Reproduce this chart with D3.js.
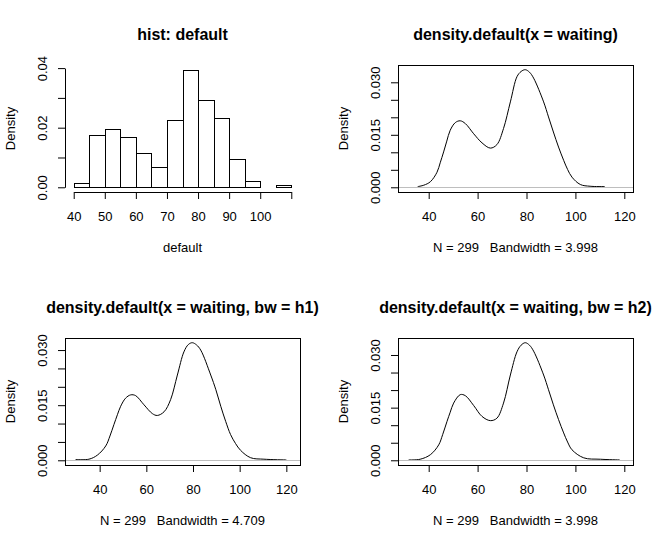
<!DOCTYPE html>
<html>
<head>
<meta charset="utf-8">
<script src="https://cdn.jsdelivr.net/npm/d3@7"></script>
<style>
body { margin: 0; background: #fff; }
text { fill: #000; }
</style>
</head>
<body>
<script>
// histogram of waiting, bins of width 5
var histBreaks = [40, 45, 50, 55, 60, 65, 70, 75, 80, 85, 90, 95, 100, 105, 110];
var histDensity = [0.00134, 0.01739, 0.01940, 0.01672, 0.01137, 0.00669, 0.02274,
                   0.03946, 0.02943, 0.02341, 0.00936, 0.00201, 0, 0.00067];
var histXTicks = [40, 50, 60, 70, 80, 90, 100, 110];
var histXLabels = ["40", "50", "60", "70", "80", "90", "100", ""];
var histYTicks = [0, 0.01, 0.02, 0.03, 0.04];
var histYLabels = ["0.00", "", "0.02", "", "0.04"];

// kernel density estimates
var densX1 = [35.5, 38, 40.7, 43.4, 44.7, 46.1, 47.4, 48.8, 50.9, 52.9, 55, 58.4, 61.8, 65.2, 67.9, 70.6,
              73.4, 76.1, 77.8, 79.5, 81.2, 82.9, 87, 89, 91, 93.1, 95.2, 96.8, 98.6, 102, 106, 112];
var densY1 = [0.0002, 0.0006, 0.0016, 0.0043, 0.0070, 0.0101, 0.0132, 0.0163, 0.0185, 0.0190, 0.0182, 0.0153,
              0.0127, 0.0112, 0.0122, 0.0168, 0.0244, 0.0316, 0.0331, 0.0336, 0.0329, 0.0312,
              0.0244, 0.0201, 0.0158, 0.0115, 0.0077, 0.0051, 0.0029, 0.0008, 0.0003, 0.0002];
var densX2 = [29.7, 35.4, 39, 42.6, 44.4, 46.1, 47.6, 49, 51.1, 53.3, 55.4, 59, 62.6, 64.7, 67.6, 70.4,
              73.3, 76.1, 78, 79.7, 81.5, 83.3, 87.6, 89.8, 91.9, 94, 96.1, 98.2, 100.4, 104.7, 110.4, 120];
var densY2 = [0.0002, 0.0003, 0.0014, 0.0039, 0.0066, 0.0097, 0.0124, 0.0147, 0.0169, 0.0178, 0.0176, 0.0151,
              0.0127, 0.0122, 0.0132, 0.0165, 0.0232, 0.0295, 0.0315, 0.0320, 0.0314, 0.0300,
              0.0232, 0.0192, 0.0147, 0.0106, 0.0070, 0.0046, 0.0027, 0.0007, 0.0003, 0.0001];
var densX3 = [31.8, 36.5, 40.7, 44.1, 45.7, 47.5, 48.8, 50.2, 52.9, 55, 58.4, 61.8, 65.2, 67.9, 70.6, 73.4,
              76.1, 77.8, 79.5, 81.2, 82.9, 87, 89, 91, 93.1, 95.2, 96.8, 98.6, 103.4, 110.2, 118.1];
var densY3 = [0.0001, 0.0003, 0.0016, 0.0044, 0.0073, 0.0111, 0.0137, 0.0163, 0.0187, 0.0184, 0.0156, 0.0125,
              0.0113, 0.0120, 0.0163, 0.0243, 0.0309, 0.0328, 0.0335, 0.0328, 0.0311, 0.0243,
              0.0201, 0.0158, 0.0116, 0.0078, 0.0052, 0.0030, 0.0007, 0.0003, 0.0001];

var nObs = 299;
var waitingRange = [43, 108];
var bandwidths = [3.998, 4.709, 3.998];
var densXTicks = [40, 60, 80, 100, 120];
var densYTicks = [0, 0.005, 0.010, 0.015, 0.020, 0.025, 0.030];
var densYLabels = ["0.000", "", "", "0.015", "", "", "0.030"];
var titles = ["hist: default", "density.default(x = waiting)",
              "density.default(x = waiting, bw = h1)", "density.default(x = waiting, bw = h2)"];

var FONT = "'Liberation Sans', Arial, Helvetica, sans-serif";
var W = 667, H = 547;
var svg = d3.select("body").append("svg").attr("width", W).attr("height", H)
  .style("font-family", FONT);

// plot region of panel (col,row) in a 2x2 layout
function region(col, row) {
  var ox = col * 333.5, oy = row * 273.5;
  return {ox: ox, oy: oy,
    left: Math.floor(65.3 + ox), right: Math.floor(300 + ox),
    top: Math.floor(65 + oy), bottom: Math.floor(192.3 + oy)};
}

function ext(a, b) { var r = b - a; return [a - 0.04 * r, b + 0.04 * r]; }

function bottomAxis(g, x, ticks, labels, y0) {
  var ax = g.append("g").attr("transform", "translate(0," + y0 + ")")
    .call(d3.axisBottom(x).tickValues(ticks).tickSize(7).tickSizeOuter(0)
      .tickFormat(function(d, i) { return labels[i]; }));
  ax.attr("font-family", FONT).attr("font-size", 13);
  ax.select(".domain").remove();
  ax.append("line").attr("x1", x(ticks[0]) + 0.5).attr("x2", x(ticks[ticks.length - 1]) + 0.5)
    .attr("y1", 0.5).attr("y2", 0.5).attr("stroke", "#000");
  ax.selectAll("text").attr("y", 28.5).attr("dy", null);
}

function leftAxis(g, y, ticks, labels, x0) {
  var ax = g.append("g").attr("transform", "translate(" + x0 + ",0)")
    .call(d3.axisLeft(y).tickValues(ticks).tickSize(7).tickSizeOuter(0)
      .tickFormat(function(d, i) { return labels[i]; }));
  ax.attr("font-family", FONT).attr("font-size", 13);
  ax.select(".domain").remove();
  ax.append("line").attr("y1", y(ticks[0]) + 0.5).attr("y2", y(ticks[ticks.length - 1]) + 0.5)
    .attr("x1", 0.5).attr("x2", 0.5).attr("stroke", "#000");
  ax.selectAll("text").attr("x", null).attr("dy", null)
    .attr("text-anchor", "middle")
    .attr("transform", "translate(-18.5,0) rotate(-90)");
}

function labels(g, r, title, xlab) {
  var cx = (r.left + r.right) / 2;
  g.append("text").attr("x", cx).attr("y", r.top - 25).attr("text-anchor", "middle")
    .attr("font-size", 16).attr("font-weight", "bold").text(title);
  g.append("text").attr("x", cx).attr("y", r.bottom + 60).attr("text-anchor", "middle")
    .attr("font-size", 13).style("white-space", "pre").attr("xml:space", "preserve").text(xlab);
  g.append("text").attr("text-anchor", "middle").attr("font-size", 13)
    .attr("transform", "translate(" + (r.ox + 14.5) + "," + ((r.top + r.bottom) / 2) + ") rotate(-90)")
    .text("Density");
}

// ---- panel 1: histogram
(function() {
  var r = region(0, 0);
  var g = svg.append("g");
  var x = d3.scaleLinear().domain(ext(histBreaks[0], histBreaks[histBreaks.length - 1])).range([r.left, r.right]);
  var y = d3.scaleLinear().domain(ext(0, d3.max(histDensity))).range([r.bottom, r.top]);
  g.selectAll("rect.bar").data(histDensity).enter().append("rect")
    .attr("class", "bar")
    .attr("x", function(d, i) { return Math.round(x(histBreaks[i])) + 0.5; })
    .attr("width", function(d, i) { return Math.round(x(histBreaks[i + 1])) - Math.round(x(histBreaks[i])); })
    .attr("y", function(d) { return Math.round(y(d)) + 0.5; })
    .attr("height", function(d) { return Math.round(y(0)) - Math.round(y(d)); })
    .attr("fill", "#fff").attr("stroke", "#000").attr("shape-rendering", "crispEdges");
  bottomAxis(g, x, histXTicks, histXLabels, r.bottom);
  leftAxis(g, y, histYTicks, histYLabels, r.left);
  labels(g, r, titles[0], "default");
})();

// ---- panels 2-4: density curves
var densPanels = [
  {col: 1, row: 0, xs: densX1, ys: densY1, bw: bandwidths[0], title: titles[1]},
  {col: 0, row: 1, xs: densX2, ys: densY2, bw: bandwidths[1], title: titles[2]},
  {col: 1, row: 1, xs: densX3, ys: densY3, bw: bandwidths[2], title: titles[3]}
];

densPanels.forEach(function(p) {
  var r = region(p.col, p.row);
  var g = svg.append("g");
  var x = d3.scaleLinear()
    .domain(ext(waitingRange[0] - 3 * p.bw, waitingRange[1] + 3 * p.bw))
    .range([r.left, r.right]);
  var y = d3.scaleLinear().domain(ext(0, d3.max(p.ys))).range([r.bottom, r.top]);
  var pts = p.xs.map(function(v, i) { return [v, p.ys[i]]; });
  var line = d3.line()
    .x(function(d) { return x(d[0]); })
    .y(function(d) { return y(d[1]); })
    .curve(d3.curveCatmullRom);
  g.append("path").datum(pts).attr("d", line)
    .attr("fill", "none").attr("stroke", "#000").attr("stroke-width", 1);
  // zero line drawn on top, like abline(h = 0)
  g.append("line").attr("x1", r.left).attr("x2", r.right)
    .attr("y1", Math.round(y(0)) + 0.5).attr("y2", Math.round(y(0)) + 0.5)
    .attr("stroke", "#bebebe").attr("shape-rendering", "crispEdges");
  g.append("rect").attr("x", r.left + 0.5).attr("y", r.top + 0.5)
    .attr("width", r.right - r.left).attr("height", r.bottom - r.top)
    .attr("fill", "none").attr("stroke", "#000").attr("shape-rendering", "crispEdges");
  bottomAxis(g, x, densXTicks, densXTicks.map(String), r.bottom);
  leftAxis(g, y, densYTicks, densYLabels, r.left);
  labels(g, r, p.title, "N = " + nObs + "   Bandwidth = " + p.bw.toFixed(3));
});
</script>
</body>
</html>
